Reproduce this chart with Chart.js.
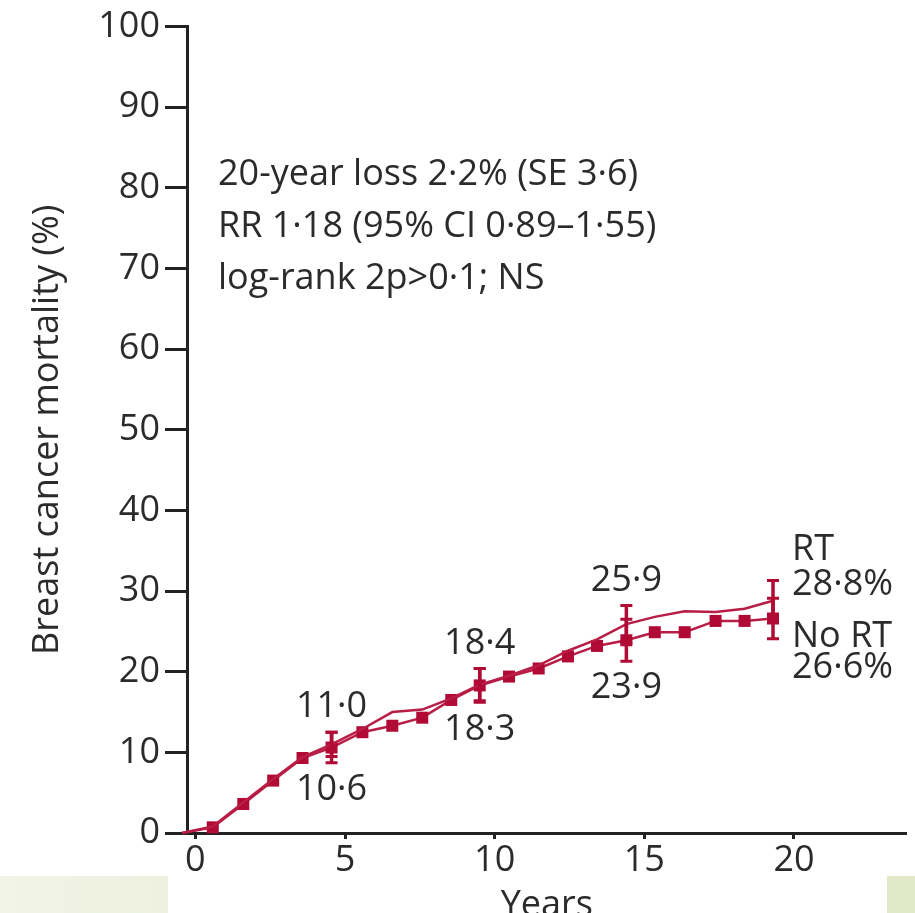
<!DOCTYPE html>
<html>
<head>
<meta charset="utf-8">
<script src="https://cdn.jsdelivr.net/npm/chart.js@4"></script>
<style>
  html, body { margin: 0; padding: 0; background: #fff; }
  #wrap { position: relative; width: 915px; height: 913px; overflow: hidden; }
  .band { position: absolute; top: 876px; height: 37px; }
  #bandL { left: 0; width: 168px; background: linear-gradient(90deg, #f1f4e6, #edf1de); }
  #bandR { left: 887px; width: 28px; background: #e2e9c8; }
  canvas { position: absolute; left: 0; top: 0; }
</style>
</head>
<body>
<div id="wrap">
  <div class="band" id="bandL"></div>
  <div class="band" id="bandR"></div>
  <canvas id="c" width="915" height="913"></canvas>
</div>
<script>
// Follow-up time (years) for each plotted step
const years = [-0.45, 0.58, 1.6, 2.6, 3.58, 4.55, 5.58, 6.58, 7.58, 8.55, 9.5,
               10.48, 11.47, 12.45, 13.42, 14.4, 15.35, 16.35, 17.38, 18.35, 19.3];

// Cumulative breast cancer mortality (%)
const rtMortality   = [0, 0.8, 3.8, 6.7, 9.4, 11.0, 12.9, 15.0, 15.3, 16.7, 18.4,
                       19.5, 20.8, 22.6, 24.0, 25.9, 26.8, 27.5, 27.4, 27.8, 28.8];
const noRtMortality = [0, 0.7, 3.6, 6.5, 9.3, 10.6, 12.5, 13.3, 14.3, 16.5, 18.3,
                       19.4, 20.4, 21.9, 23.2, 23.9, 24.9, 24.9, 26.3, 26.3, 26.6];

// 5, 10, 15 and 20-year estimates with their standard errors
const milestoneIndex = [5, 10, 15, 20];
const rtSE   = [1.5, 2.0, 2.3, 2.5];
const noRtSE = [1.9, 2.1, 2.6, 2.5];

// Axis ticks
const yearTicks = [0, 5, 10, 15, 20];
const mortalityTicks = [0, 10, 20, 30, 40, 50, 60, 70, 80, 90, 100];

// Summary statistics
const statLines = [
  '20-year loss 2\u00b72% (SE 3\u00b76)',
  'RR 1\u00b718 (95% CI 0\u00b789\u20131\u00b755)',
  'log-rank 2p>0\u00b71; NS'
];
const seriesNames = ['RT', 'No RT'];

const FONT = '"Open Sans", "Liberation Sans", sans-serif';
const FSIZE = 36;
const TEXT = '#2b2b2b';
const AXIS = '#222222';
const CRIMSON = '#b00a35';
const LINE = '#b81d45';

const fmt = v => v.toFixed(1).replace('.', '\u00b7');

const annotate = {
  id: 'annotate',
  afterDatasetsDraw(chart) {
    const { ctx, chartArea, scales: { x, y } } = chart;
    ctx.save();

    // error bars
    ctx.strokeStyle = CRIMSON;
    ctx.lineCap = 'butt';
    [[rtMortality, rtSE], [noRtMortality, noRtSE]].forEach(([vals, se]) => {
      milestoneIndex.forEach((idx, k) => {
        const px = x.getPixelForValue(years[idx]);
        const lo = y.getPixelForValue(vals[idx] - se[k]);
        const hi = y.getPixelForValue(vals[idx] + se[k]);
        ctx.lineWidth = 3.5;
        ctx.beginPath();
        ctx.moveTo(px, lo); ctx.lineTo(px, hi);
        ctx.stroke();
        ctx.lineWidth = 3;
        ctx.beginPath();
        ctx.moveTo(px - 6, lo); ctx.lineTo(px + 6, lo);
        ctx.moveTo(px - 6, hi); ctx.lineTo(px + 6, hi);
        ctx.stroke();
      });
    });

    // value labels
    ctx.fillStyle = TEXT;
    ctx.font = `${FSIZE}px ${FONT}`;
    ctx.textBaseline = 'middle';
    milestoneIndex.forEach((idx, k) => {
      const px = x.getPixelForValue(years[idx]);
      const top = y.getPixelForValue(Math.max(rtMortality[idx] + rtSE[k], noRtMortality[idx] + noRtSE[k]));
      const bot = y.getPixelForValue(Math.min(rtMortality[idx] - rtSE[k], noRtMortality[idx] - noRtSE[k]));
      if (k < milestoneIndex.length - 1) {
        ctx.textAlign = 'center';
        ctx.fillText(fmt(rtMortality[idx]), px, top - 25);
        ctx.fillText(fmt(noRtMortality[idx]), px, bot + 27);
      } else {
        ctx.textAlign = 'left';
        const yr = y.getPixelForValue(rtMortality[idx]);
        const yn = y.getPixelForValue(noRtMortality[idx]);
        ctx.fillText(seriesNames[0], px + 19, yr - 51);
        ctx.fillText(fmt(rtMortality[idx]) + '%', px + 19, yr - 16);
        ctx.fillText(seriesNames[1], px + 19, yn + 18);
        ctx.fillText(fmt(noRtMortality[idx]) + '%', px + 19, yn + 49);
      }
    });

    // summary statistics
    ctx.textAlign = 'left';
    ctx.textBaseline = 'alphabetic';
    statLines.forEach((s, i) => {
      ctx.fillText(s, chartArea.left + 31, chartArea.top + 158 + i * 52);
    });
    ctx.restore();
  }
};

new Chart(document.getElementById('c'), {
  type: 'line',
  data: {
    datasets: [
      {
        label: seriesNames[0],
        data: years.map((t, i) => ({ x: t, y: rtMortality[i] })),
        borderColor: LINE,
        borderWidth: 2.5,
        pointRadius: 0,
        tension: 0,
        clip: false
      },
      {
        label: seriesNames[1],
        data: years.map((t, i) => ({ x: t, y: noRtMortality[i] })),
        borderColor: LINE,
        borderWidth: 2.5,
        pointStyle: 'rect',
        pointRadius: c => (c.dataIndex === 0 ? 0 : 8.5),
        pointBackgroundColor: CRIMSON,
        pointBorderWidth: 0,
        tension: 0,
        clip: false
      }
    ]
  },
  options: {
    responsive: false,
    animation: false,
    events: [],
    layout: { padding: { top: 24, right: 0, left: 0, bottom: 0 } },
    plugins: { legend: { display: false }, tooltip: { enabled: false } },
    scales: {
      x: {
        type: 'linear',
        min: -0.28,
        max: 23.76,
        afterBuildTicks: s => { s.ticks = yearTicks.map(v => ({ value: v })); },
        afterFit: s => { s.height = 80; },
        grid: { drawOnChartArea: false, drawTicks: true, tickLength: 6, tickWidth: 3, tickColor: AXIS },
        border: { display: true, color: AXIS, width: 3 },
        ticks: { font: { family: FONT, size: FSIZE }, color: TEXT, padding: 0, maxRotation: 0 },
        title: { display: true, text: 'Years', font: { family: FONT, size: FSIZE }, color: TEXT, padding: { top: 0, bottom: -14 } }
      },
      y: {
        type: 'linear',
        min: 0,
        max: 100,
        afterBuildTicks: s => { s.ticks = mortalityTicks.map(v => ({ value: v })); },
        afterFit: s => { s.width = 187; },
        grid: { drawOnChartArea: false, drawTicks: true, tickLength: 22, tickWidth: 3, tickColor: AXIS },
        border: { display: true, color: AXIS, width: 3 },
        ticks: { font: { family: FONT, size: FSIZE }, color: TEXT, padding: 5 },
        title: { display: true, text: 'Breast cancer mortality (%)', font: { family: FONT, size: FSIZE }, color: TEXT, padding: { top: 26, bottom: 0 } }
      }
    }
  },
  plugins: [annotate]
});
</script>
</body>
</html>
